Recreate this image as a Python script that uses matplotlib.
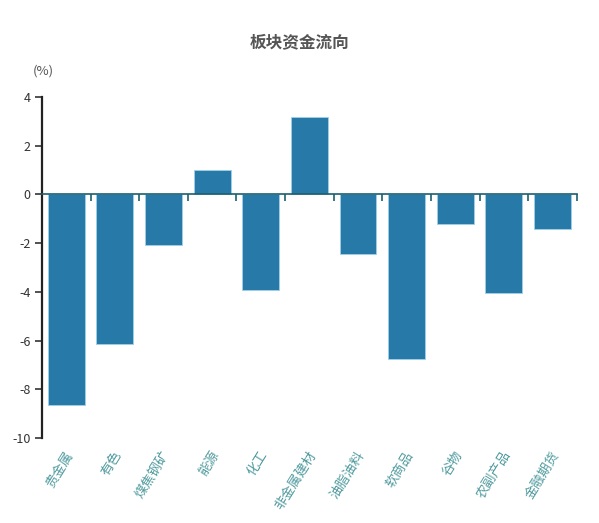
import numpy as np
import matplotlib.pyplot as plt

plt.rcParams['font.family'] = ['Noto Sans CJK SC', 'DejaVu Sans']
plt.rcParams['axes.unicode_minus'] = False

sectors = ['贵金属', '有色', '煤焦钢矿', '能源', '化工', '非金属建材',
           '油脂油料', '软商品', '谷物', '农副产品', '金融期货']
flows = [-8.66, -6.16, -2.09, 0.99, -3.94, 3.2, -2.46, -6.77, -1.23, -4.06, -1.40]
yticks = [-10, -8, -6, -4, -2, 0, 2, 4]

fig = plt.figure(figsize=(5.99, 5.23), dpi=100)
ax = fig.add_axes([0.070, 0.1625, 0.893, 0.652])

x = np.arange(len(sectors))
ax.bar(x, flows, width=0.76, color='#2779a7', edgecolor='#9fd0ea', linewidth=0.6, zorder=2)

ax.set_xlim(-0.5, len(sectors) - 0.5)
ax.set_ylim(-10, 4)
ax.set_yticks(yticks)
ax.tick_params(axis='y', labelsize=9, colors='#333333', length=5, width=1.2, pad=3)

ax.spines['top'].set_visible(False)
ax.spines['right'].set_visible(False)
ax.spines['left'].set_linewidth(1.6)
ax.spines['left'].set_color('#222222')
ax.spines['bottom'].set_position(('data', 0))
ax.spines['bottom'].set_color('#1d5f6e')
ax.spines['bottom'].set_linewidth(1.2)

# ticks between categories on the zero line
ax.set_xticks(np.arange(len(sectors) + 1) - 0.5)
ax.set_xticklabels([])
ax.tick_params(axis='x', direction='out', length=5, width=1.2, colors='#1d5f6e')

for i, name in enumerate(sectors):
    ax.annotate(name, xy=(i, -10), xytext=(-1, -8), textcoords='offset points',
                ha='right', va='top', rotation=58, rotation_mode='anchor',
                fontsize=9.5, color='#4f9a9e')

fig.text(0.5, 0.92, '板块资金流向', ha='center', va='center',
         fontsize=12, fontweight='bold', color='#555555')
fig.text(0.072, 0.865, '(%)', ha='center', va='center', fontsize=9.5, color='#555555')

fig.savefig('out.png', dpi=100)
